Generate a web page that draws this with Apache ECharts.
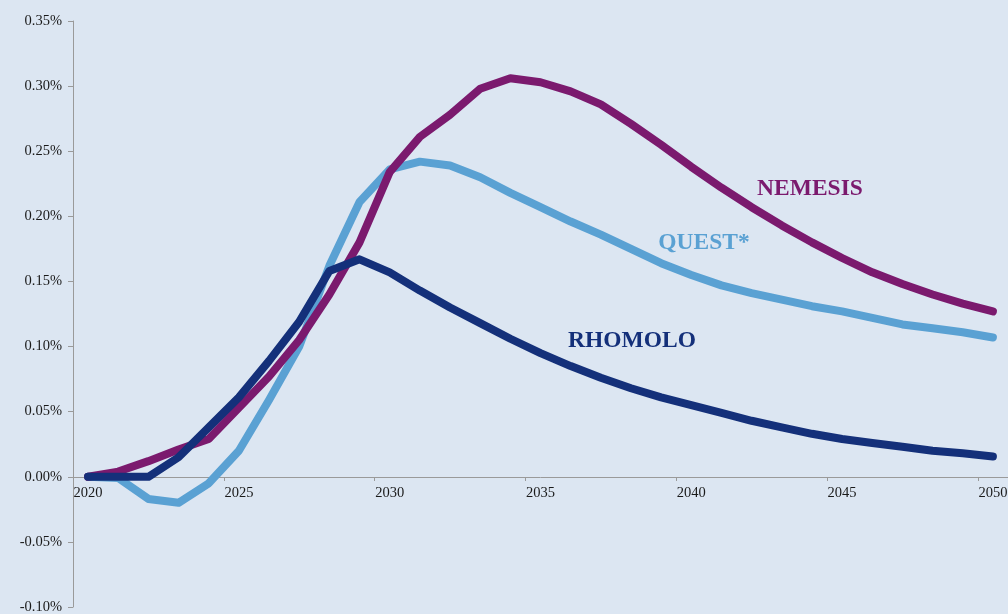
<!DOCTYPE html>
<html>
<head>
<meta charset="utf-8">
<script src="https://cdn.jsdelivr.net/npm/echarts@6/dist/echarts.min.js"></script>
<style>
html,body{margin:0;padding:0;background:#dce6f2;}
#c{width:1008px;height:614px;}
</style>
</head>
<body>
<div id="c"></div>
<script>
var years = [];
for (var y = 2020; y <= 2050; y++) years.push(String(y));

var yTicks = [-0.10, -0.05, 0.00, 0.05, 0.10, 0.15, 0.20, 0.25, 0.30, 0.35];

var nemesis = [0.000, 0.004, 0.012, 0.021, 0.029, 0.053, 0.077, 0.105, 0.140, 0.180,
               0.234, 0.261, 0.278, 0.298, 0.306, 0.303, 0.296, 0.286, 0.271, 0.255,
               0.238, 0.222, 0.207, 0.193, 0.180, 0.168, 0.157, 0.148, 0.140, 0.133, 0.127];
var quest   = [0.000, -0.001, -0.017, -0.020, -0.005, 0.020, 0.059, 0.100, 0.162, 0.211,
               0.236, 0.242, 0.239, 0.230, 0.218, 0.207, 0.196, 0.186, 0.175, 0.164,
               0.155, 0.147, 0.141, 0.136, 0.131, 0.127, 0.122, 0.117, 0.114, 0.111, 0.107];
var rhomolo = [0.000, 0.000, 0.000, 0.015, 0.038, 0.061, 0.089, 0.119, 0.158, 0.167,
               0.157, 0.143, 0.130, 0.118, 0.106, 0.095, 0.085, 0.076, 0.068, 0.061,
               0.055, 0.049, 0.043, 0.038, 0.033, 0.029, 0.026, 0.023, 0.020, 0.018, 0.0155];

var colors = {NEMESIS: '#7b1a6e', 'QUEST*': '#5aa1d3', RHOMOLO: '#14307a'};

var font = "'Liberation Serif','Times New Roman',serif";

var W = 1008, H = 614, gridTop = 21, gridBottom = 7;
var yMin = -0.10, yMax = 0.35;
// shift the category axis up so it sits on the zero line
var plotH = H - gridTop - gridBottom;
var zeroOffset = -Math.round(plotH * (0 - yMin) / (yMax - yMin));

function lineSeries(name, data, z) {
  return {
    name: name, type: 'line', data: data, symbol: 'none', z: z,
    lineStyle: {width: 8, color: colors[name], cap: 'round', join: 'round'},
    itemStyle: {color: colors[name]},
    animation: false
  };
}

var chart = echarts.init(document.getElementById('c'), null, {renderer: 'canvas'});
chart.setOption({
  backgroundColor: '#dce6f2',
  animation: false,
  grid: {left: 73, right: 0, top: gridTop, bottom: gridBottom, containLabel: false, outerBoundsMode: 'none'},
  xAxis: {
    type: 'category', data: years, boundaryGap: true, position: 'bottom', offset: zeroOffset,
    axisLine: {onZero: false, lineStyle: {color: '#9a9a9a', width: 1}},
    axisTick: {show: true, interval: 4, length: 4, lineStyle: {color: '#9a9a9a'}},
    axisLabel: {interval: 4, margin: 9, color: '#1a1a1a', fontFamily: font, fontSize: 14.5},
    splitLine: {show: false}
  },
  yAxis: {
    type: 'value', min: yMin, max: yMax, interval: 0.05,
    axisLine: {show: true, lineStyle: {color: '#9a9a9a', width: 1}},
    axisTick: {show: true, length: 5, lineStyle: {color: '#9a9a9a'}},
    axisLabel: {
      margin: 11, color: '#1a1a1a', fontFamily: font, fontSize: 14.5,
      formatter: function (v) { return v.toFixed(2) + '%'; }
    },
    splitLine: {show: false}
  },
  series: [
    lineSeries('QUEST*', quest, 2),
    lineSeries('NEMESIS', nemesis, 3),
    lineSeries('RHOMOLO', rhomolo, 4)
  ],
  graphic: [
    {type: 'text', x: 810, y: 189, style: {text: 'NEMESIS', fill: colors.NEMESIS, font: 'bold 23.5px ' + font, textAlign: 'center', textVerticalAlign: 'middle'}},
    {type: 'text', x: 704, y: 243, style: {text: 'QUEST*', fill: colors['QUEST*'], font: 'bold 23.5px ' + font, textAlign: 'center', textVerticalAlign: 'middle'}},
    {type: 'text', x: 632, y: 341, style: {text: 'RHOMOLO', fill: colors.RHOMOLO, font: 'bold 23.5px ' + font, textAlign: 'center', textVerticalAlign: 'middle'}}
  ]
});
</script>
</body>
</html>
